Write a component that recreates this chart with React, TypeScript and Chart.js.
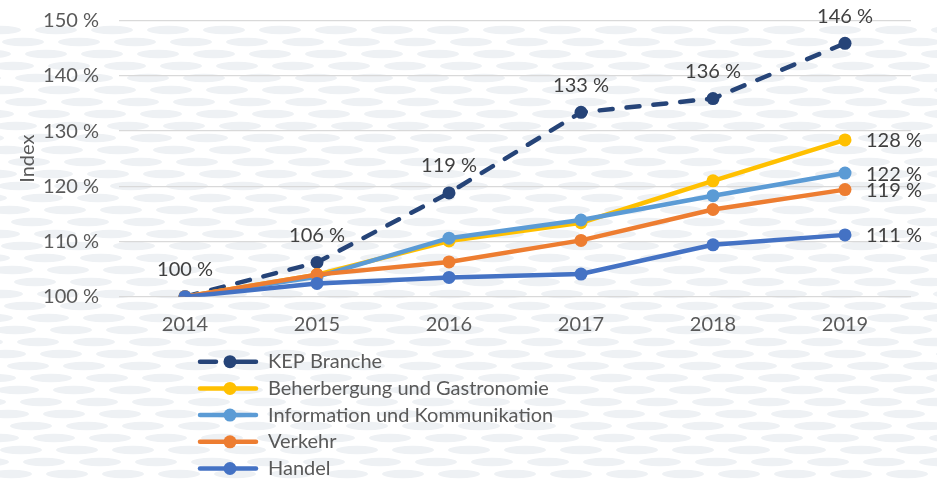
import React, { useEffect, useRef } from "react";
import { Chart, registerables } from "chart.js";

Chart.register(...registerables);

const years = ["2014", "2015", "2016", "2017", "2018", "2019"];
const kepBranche = [100, 106.2, 118.8, 133.4, 135.9, 145.9];
const beherbergung = [100, 104.0, 110.1, 113.4, 121.0, 128.4];
const information = [100, 103.6, 110.6, 113.9, 118.3, 122.4];
const verkehr = [100, 104.0, 106.3, 110.2, 115.8, 119.4];
const handel = [100, 102.4, 103.5, 104.1, 109.4, 111.2];

const seriesNames = [
  "KEP Branche",
  "Beherbergung und Gastronomie",
  "Information und Kommunikation",
  "Verkehr",
  "Handel",
];
const seriesColors = ["#264478", "#FFC000", "#5B9BD5", "#ED7D31", "#4472C4"];
const seriesValues = [kepBranche, beherbergung, information, verkehr, handel];

const yMin = 100;
const yMax = 150;
const yStep = 10;

const FONT = "Lato, 'Open Sans', sans-serif";
const FS = 20;
const TEXT = "#595959";
const LABEL = "#404040";

const pct = (v: number) => `${Math.round(v)} %`;

const backgroundPlugin = {
  id: "bgPattern",
  beforeDraw(chart: any) {
    const { ctx, width, height } = chart;
    ctx.save();
    ctx.fillStyle = "#ffffff";
    ctx.fillRect(0, 0, width, height);
    ctx.fillStyle = "#eef1f4";
    const rowH = 12;
    const spacing = 56;
    let row = 0;
    for (let y = 30; y < height + 10; y += rowH, row++) {
      const off = ((row * 23) % spacing) - spacing;
      for (let x = off; x < width + spacing; x += spacing) {
        ctx.beginPath();
        ctx.ellipse(x, y, 21, 4.2, 0, 0, Math.PI * 2);
        ctx.fill();
      }
    }
    ctx.restore();
  },
};

const labelPlugin = {
  id: "valueLabels",
  afterDatasetsDraw(chart: any) {
    const { ctx } = chart;
    ctx.save();
    ctx.font = `${FS}px ${FONT}`;
    ctx.fillStyle = LABEL;
    chart.data.datasets.forEach((ds: any, di: number) => {
      const meta = chart.getDatasetMeta(di);
      if (di === 0) {
        ctx.textAlign = "center";
        ctx.textBaseline = "middle";
        meta.data.forEach((pt: any, i: number) => {
          ctx.fillText(pct(ds.data[i]), pt.x, pt.y - 27);
        });
      } else {
        const last = meta.data.length - 1;
        const pt = meta.data[last];
        ctx.textAlign = "left";
        ctx.textBaseline = "middle";
        ctx.fillText(pct(ds.data[last]), pt.x + 21, pt.y + 1);
      }
    });
    ctx.restore();
  },
};

const legendPlugin = {
  id: "customLegend",
  afterDraw(chart: any) {
    const { ctx, chartArea } = chart;
    ctx.save();
    ctx.font = `${FS}px ${FONT}`;
    ctx.textBaseline = "middle";
    ctx.textAlign = "left";
    const startY = chartArea.bottom + 65;
    const gap = 26.7;
    seriesNames.forEach((name, i) => {
      const y = startY + i * gap;
      const color = seriesColors[i];
      ctx.strokeStyle = color;
      ctx.fillStyle = color;
      ctx.lineWidth = 4.5;
      ctx.lineCap = "round";
      ctx.beginPath();
      if (i === 0) {
        ctx.moveTo(200, y);
        ctx.lineTo(216, y);
        ctx.moveTo(232, y);
        ctx.lineTo(256, y);
      } else {
        ctx.moveTo(200, y);
        ctx.lineTo(256, y);
      }
      ctx.stroke();
      ctx.beginPath();
      ctx.arc(230, y, 6.5, 0, Math.PI * 2);
      ctx.fill();
      ctx.fillStyle = TEXT;
      ctx.fillText(name, 268, y);
    });
    ctx.restore();
  },
};

export default function App() {
  const canvasRef = useRef<HTMLCanvasElement | null>(null);

  useEffect(() => {
    document.body.style.margin = "0";
    const canvas = canvasRef.current;
    if (!canvas) return;
    const datasets = seriesValues.map((vals, i) => ({
      label: seriesNames[i],
      data: vals,
      borderColor: seriesColors[i],
      backgroundColor: seriesColors[i],
      borderWidth: 4.5,
      borderDash: i === 0 ? [13, 14] : [],
      borderCapStyle: i === 0 ? "round" : "butt",
      pointRadius: 6.5,
      pointHoverRadius: 6.5,
      pointBorderWidth: 0,
      pointBackgroundColor: seriesColors[i],
      tension: 0,
      order: seriesValues.length - 1 - i,
    }));
    const chart = new Chart(canvas, {
      type: "line",
      data: { labels: years, datasets: datasets as any },
      options: {
        animation: false,
        responsive: true,
        maintainAspectRatio: false,
        layout: { padding: { top: 20.7, right: 26, bottom: 0, left: 0 } },
        plugins: {
          legend: { display: false },
          tooltip: { enabled: false },
        },
        scales: {
          x: {
            offset: true,
            grid: { display: false, drawTicks: false },
            border: { display: false },
            ticks: {
              color: TEXT,
              font: { family: FONT, size: FS },
              padding: 16,
              maxRotation: 0,
            },
            afterFit(scale: any) {
              scale.height = 182.3;
              scale.paddingLeft = 0;
              scale.paddingRight = 0;
            },
          },
          y: {
            min: yMin,
            max: yMax,
            grid: { color: "#d9d9d9", lineWidth: 1.3, drawTicks: false, tickLength: 0 },
            border: { display: false },
            ticks: {
              stepSize: yStep,
              color: TEXT,
              font: { family: FONT, size: FS },
              padding: 20,
              callback: (v: any) => `${v} %`,
            },
            title: {
              display: true,
              text: "Index",
              color: TEXT,
              font: { family: FONT, size: FS },
              padding: { top: 16, bottom: 0 },
            },
            afterFit(scale: any) {
              scale.width = 119;
              scale.paddingTop = 0;
              scale.paddingBottom = 0;
            },
          },
        },
      },
      plugins: [backgroundPlugin, labelPlugin, legendPlugin],
    });
    return () => chart.destroy();
  }, []);

  return (
    <div style={{ position: "relative", width: 937, height: 479 }}>
      <canvas ref={canvasRef} />
    </div>
  );
}
